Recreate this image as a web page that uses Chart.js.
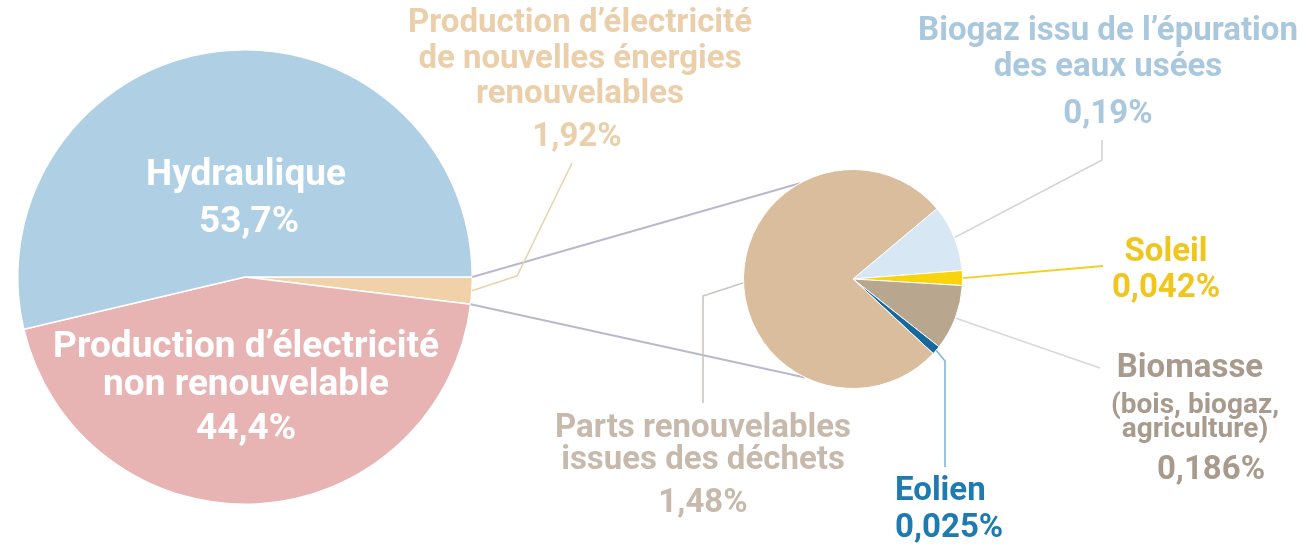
<!DOCTYPE html>
<html><head><meta charset="utf-8">
<script src="https://cdn.jsdelivr.net/npm/chart.js@4.4.1/dist/chart.umd.min.js"></script>
<style>
html,body{margin:0;padding:0;background:#fff;width:1305px;height:548px;overflow:hidden}
#wrap{position:relative;width:1305px;height:548px}
canvas{position:absolute;left:0;top:0}
</style></head><body>
<div id="wrap"><canvas id="big" width="1305" height="548"></canvas><canvas id="small" width="1305" height="548"></canvas></div>
<script>
// ---- data ----
const bigCategories = [
  ["Production d’électricité", "de nouvelles énergies", "renouvelables"],
  ["Production d’électricité", "non renouvelable"],
  ["Hydraulique"]
];
const bigValues = [1.92, 44.4, 53.7];

const detailCategories = [
  ["Biogaz issu de l’épuration", "des eaux usées"],
  ["Soleil"],
  ["Biomasse", "(bois, biogaz,", "agriculture)"],
  ["Eolien"],
  ["Parts renouvelables", "issues des déchets"]
];
const detailValues = [0.19, 0.042, 0.186, 0.025, 1.48];

// ---- styles ----
const bigColors = ['#f0d1a8', '#e8b4b3', '#afcfe4'];
const detailColors = ['#d8e7f4', '#f8d40c', '#b9a68f', '#17689c', '#dabd9c'];
const FONT = 'Roboto, "DejaVu Sans", sans-serif';
const pct = v => String(v).replace('.', ',') + '%';

const bigLabelLayout = [
  {x: 580, ys: [24, 60, 95], py: 138, px: 577, color: '#ebcfaa', size: 33, align: 'center'},
  {x: 246, ys: [348, 386], py: 430, color: '#ffffff', size: 37, align: 'center'},
  {x: 246, ys: [176], py: 223, px: 249, color: '#ffffff', size: 37, align: 'center'}
];
const detailLabelLayout = [
  {x: 1108, ys: [32, 68], py: 115, color: '#a9c8de', size: 33, align: 'center'},
  {x: 1166, ys: [253], py: 289, color: '#f0c51c', size: 33, align: 'center'},
  {x: 1190, ys: [369], sub: [406, 430], subSize: 28, subX: 1195, py: 471, px: 1211, color: '#a89b8e', size: 33, align: 'center'},
  {x: 895, ys: [492], py: 529, color: '#1e7bb0', size: 33, align: 'left'},
  {x: 703, ys: [429, 461], py: 504, color: '#c7baac', size: 33, align: 'center'}
];

const bigChart = new Chart(document.getElementById('big'), {
  type: 'pie',
  data: {labels: bigCategories, datasets: [{data: bigValues, backgroundColor: bigColors, borderColor: '#ffffff', borderWidth: 1.5}]},
  options: {
    responsive: false, animation: false, events: [], rotation: 90,
    layout: {padding: {left: 17, right: 832, top: 49, bottom: 43}},
    plugins: {legend: {display: false}, tooltip: {enabled: false}}
  }
});

function edge(arc, ang) {
  return [arc.x + arc.outerRadius * Math.cos(ang), arc.y + arc.outerRadius * Math.sin(ang)];
}
function mid(arc) { return (arc.startAngle + arc.endAngle) / 2; }
function poly(ctx, pts, color, w) {
  ctx.save(); ctx.strokeStyle = color; ctx.lineWidth = w; ctx.lineJoin = 'round';
  ctx.beginPath(); ctx.moveTo(pts[0][0], pts[0][1]);
  for (let i = 1; i < pts.length; i++) ctx.lineTo(pts[i][0], pts[i][1]);
  ctx.stroke(); ctx.restore();
}
function drawLabel(ctx, lines, value, L) {
  ctx.save();
  ctx.fillStyle = L.color; ctx.textBaseline = 'middle'; ctx.textAlign = L.align;
  ctx.font = 'bold ' + L.size + 'px ' + FONT;
  const main = L.sub ? lines.slice(0, 1) : lines;
  main.forEach((t, i) => ctx.fillText(t, L.x, L.ys[i]));
  if (L.sub) {
    ctx.font = 'bold ' + L.subSize + 'px ' + FONT;
    lines.slice(1).forEach((t, i) => ctx.fillText(t, L.subX, L.sub[i]));
  }
  ctx.font = 'bold ' + L.size + 'px ' + FONT;
  ctx.fillText(pct(value), L.px !== undefined ? L.px : L.x, L.py);
  ctx.restore();
}

const annotations = {
  id: 'annotations',
  beforeDatasetsDraw(chart) {
    const ctx = chart.ctx;
    const bArcs = bigChart.getDatasetMeta(0).data;
    const sArcs = chart.getDatasetMeta(0).data;
    const tan = bArcs[0];
    const s0 = sArcs[0];
    const deg = d => d * Math.PI / 180;
    // connectors between pies
    poly(ctx, [edge(tan, tan.startAngle), edge(s0, deg(-119))], '#b9b9ca', 2);
    poly(ctx, [edge(tan, tan.endAngle), edge(s0, deg(116))], '#b9b9ca', 2);
    // leader lines
    poly(ctx, [edge(tan, mid(tan)), [517, 276], [572, 163]], '#ead2ae', 1.6);
    poly(ctx, [edge(sArcs[0], mid(sArcs[0])), [1102, 160], [1102, 140]], '#d4d4d6', 1.6);
    poly(ctx, [edge(sArcs[1], mid(sArcs[1])), [1103, 266]], '#f2cf25', 1.8);
    poly(ctx, [edge(sArcs[2], mid(sArcs[2])), [1100, 368]], '#d8d8da', 1.6);
    poly(ctx, [edge(sArcs[3], mid(sArcs[3])), [945, 361], [945, 467]], '#7cb8d7', 1.6);
    poly(ctx, [edge(sArcs[4], deg(178)), [703, 296], [703, 403]], '#cbc5bf', 1.6);
  },
  afterDraw(chart) {
    const ctx = chart.ctx;
    bigCategories.forEach((lines, i) => drawLabel(ctx, lines, bigValues[i], bigLabelLayout[i]));
    detailCategories.forEach((lines, i) => drawLabel(ctx, lines, detailValues[i], detailLabelLayout[i]));
  }
};

new Chart(document.getElementById('small'), {
  type: 'pie',
  data: {labels: detailCategories, datasets: [{data: detailValues, backgroundColor: detailColors, borderColor: '#ffffff', borderWidth: 1}]},
  options: {
    responsive: false, animation: false, events: [], rotation: 50,
    layout: {padding: {left: 743, right: 342, top: 169, bottom: 159}},
    plugins: {legend: {display: false}, tooltip: {enabled: false}}
  },
  plugins: [annotations]
});
</script>
</body></html>
